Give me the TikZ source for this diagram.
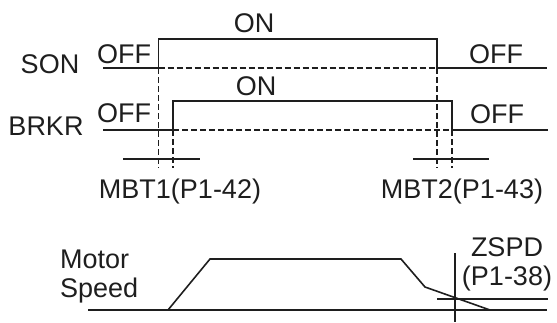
\documentclass[tikz,border=0pt]{standalone}
\usepackage{fontspec}
\setmainfont{Liberation Sans}
\usetikzlibrary{positioning,calc}
\definecolor{ink}{HTML}{1E1E1E}
\tikzset{
  sig/.style={draw=ink,line width=1.6pt},
  guide/.style={draw=ink,line width=1.3pt,dash pattern=on 6pt off 3pt},
  baseaxis/.style={draw=ink,line width=2.4pt},
  lbl/.style={font=\fontsize{27}{30}\selectfont,text=ink,inner sep=0pt,anchor=base}
}

\begin{document}
\begin{tikzpicture}[x=1pt,y=-1pt]
        \useasboundingbox (0,0) rectangle (557,322);
        % signal names
        \node[lbl] (son) at (50,73) {SON};
        \node[lbl] (brkr) at (46,135) {BRKR};
        \node[lbl] (sonoffa) at (124,63) {OFF};
        \node[lbl] (sonon) at (254,32) {ON};
        \node[lbl] (sonoffb) at (496,63) {OFF};
        \node[lbl] (brkroffa) at (124,122) {OFF};
        \node[lbl] (brkron) at (256,95) {ON};
        \node[lbl] (brkroffb) at (497,123) {OFF};
        \node[lbl] (mbta) at (180,198) {MBT1(P1-42)};
        \node[lbl] (mbtb) at (462,198) {MBT2(P1-43)};
        \node[lbl,anchor=base west] (motor) at (60,268) {Motor};
        \node[lbl,anchor=base west] (speed) at (60,297) {Speed};
        \node[lbl] (zspd) at (507,256) {ZSPD};
        \node[lbl] (zspdpar) at (507,285) {(P1-38)};
        % SON waveform
        \draw[sig] (103,68) -- (158.5,68) -- (158.5,39) -- (437,39) -- (437,68) -- (547,68);
        \draw[guide] (158.5,68) -- (437,68);
        % BRKR waveform
        \draw[sig] (103,130) -- (173,130) -- (173,101) -- (452,101) -- (452,130) -- (548,130);
        \draw[guide] (173,130) -- (452,130);
        % delay markers
        \draw[guide] (158.5,68) -- (158.5,168);
        \draw[guide] (173,130) -- (173,168);
        \draw[guide] (437,68) -- (437,168);
        \draw[guide] (452,130) -- (452,168);
        \draw[sig] (123,159) -- (200,159);
        \draw[sig] (413,159) -- (489,159);
        % motor speed
        \draw[baseaxis] (88,310) -- (547,310);
        \draw[sig] (168,310) -- (210,259) -- (401,259) -- (425,287) -- (490,310);
        \draw[sig] (455,253) -- (455,322);
        \draw[sig] (437,299) -- (548,299);
      \end{tikzpicture}
\end{document}
